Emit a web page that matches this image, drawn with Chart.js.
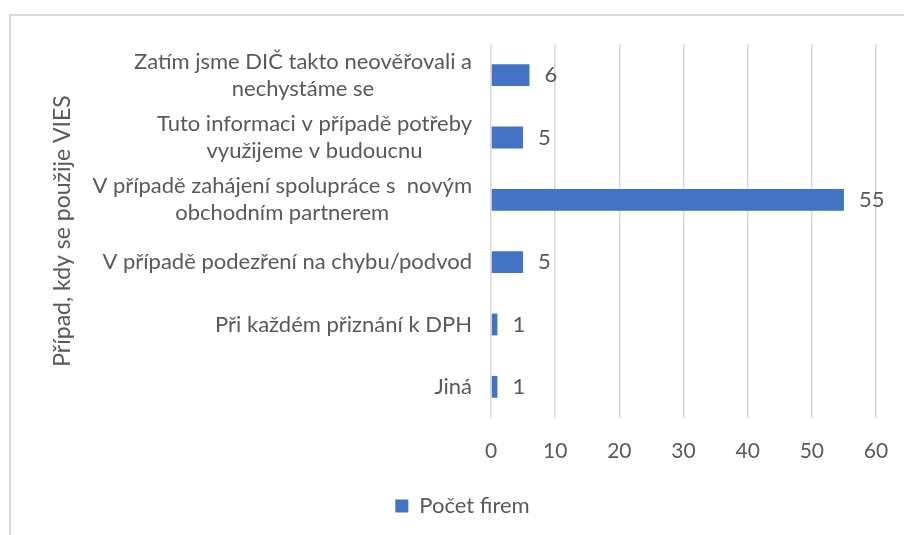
<!DOCTYPE html>
<html>
<head>
<meta charset="utf-8">
<script src="https://cdn.jsdelivr.net/npm/chart.js@4/dist/chart.umd.min.js"></script>
<style>
  html, body { margin: 0; padding: 0; background: #fff; overflow: hidden; }
  #wrap { position: relative; width: 904px; height: 535px; }
  #frame { position: absolute; left: 9px; top: 14px; width: 940px; height: 560px; border: 2px solid #d9d9d9; box-sizing: border-box; }
  canvas { position: absolute; left: 0; top: 0; }
</style>
</head>
<body>
<div id="wrap">
  <div id="frame"></div>
  <canvas id="chart" width="904" height="535"></canvas>
</div>
<script>
// categories, top to bottom, each split into its printed lines
const categories = [
    ["Zatím jsme DIČ takto neověřovali a", "nechystáme se"],
    ["Tuto informaci v případě potřeby", "využijeme v budoucnu"],
    ["V případě zahájení spolupráce s  novým", "obchodním partnerem"],
    ["V případě podezření na chybu/podvod"],
    ["Při každém přiznání k DPH"],
    ["Jiná"]
];
const counts = [6, 5, 55, 5, 1, 1];
const seriesName = "Počet firem";
const axisTitle = "Případ, kdy se použije VIES";
const xTicks = [0, 10, 20, 30, 40, 50, 60];

const FONT = "Lato";
const TEXT = "#595959";

//draws the value next to each bar and the category labels (right aligned block, centred lines)
const labelPlugin = {
    id: "labels",
    afterDatasetsDraw(chart){
        const ctx = chart.ctx;
        const meta = chart.getDatasetMeta(0);
        const yScale = chart.scales.y;
        ctx.save();
        ctx.fillStyle = TEXT;
        ctx.textBaseline = "middle";

        ctx.font = "22px " + FONT;
        meta.data.forEach((bar, i) => {
            ctx.textAlign = "left";
            ctx.fillText(String(counts[i]), bar.x + 15, bar.y);
        });

        const lineH = 27;
        const rightEdge = chart.chartArea.left - 19;
        categories.forEach((lines, i) => {
            const y = yScale.getPixelForValue(i);
            const widest = Math.max(...lines.map(l => ctx.measureText(l).width));
            const cx = rightEdge - widest / 2;
            ctx.textAlign = "center";
            lines.forEach((l, j) => {
                ctx.fillText(l, cx, y + (j - (lines.length - 1) / 2) * lineH);
            });
        });
        ctx.restore();
    }
};

const data = {
    labels: categories,
    datasets: [{
        label: seriesName,
        data: counts,
        backgroundColor: "#4472C4",
        categoryPercentage: 1,
        barPercentage: 0.35
    }]
};

const options = {
    indexAxis: "y",
    responsive: false,
    animation: false,
    layout: {
        padding: { left: 49, right: 28, top: 44, bottom: 8 }
    },
    plugins: {
        legend: {
            position: "bottom",
            labels: {
                color: TEXT,
                font: { family: FONT, size: 22 },
                boxWidth: 13,
                boxHeight: 13,
                padding: 10
            }
        },
        tooltip: { enabled: false }
    },
    scales: {
        y: {
            grid: { display: false },
            border: { display: false },
            ticks: { display: false },
            title: {
                display: true,
                text: axisTitle,
                color: TEXT,
                font: { family: FONT, size: 23 },
                padding: 0
            },
            afterFit(scale){
                scale.width = 442;
            }
        },
        x: {
            min: 0,
            max: 60,
            afterBuildTicks(scale){
                scale.ticks = xTicks.map(v => ({ value: v }));
            },
            grid: { color: "#d9d9d9", lineWidth: 1.5, drawTicks: false },
            border: { display: false },
            ticks: {
                color: TEXT,
                font: { family: FONT, size: 21 },
                padding: 21
            },
            afterFit(scale){
                scale.height = 67;
                scale.paddingLeft = 0;
                scale.paddingRight = 0;
            }
        }
    }
};

new Chart(document.getElementById("chart").getContext("2d"), {
    type: "bar",
    data,
    options,
    plugins: [labelPlugin]
});
</script>
</body>
</html>
